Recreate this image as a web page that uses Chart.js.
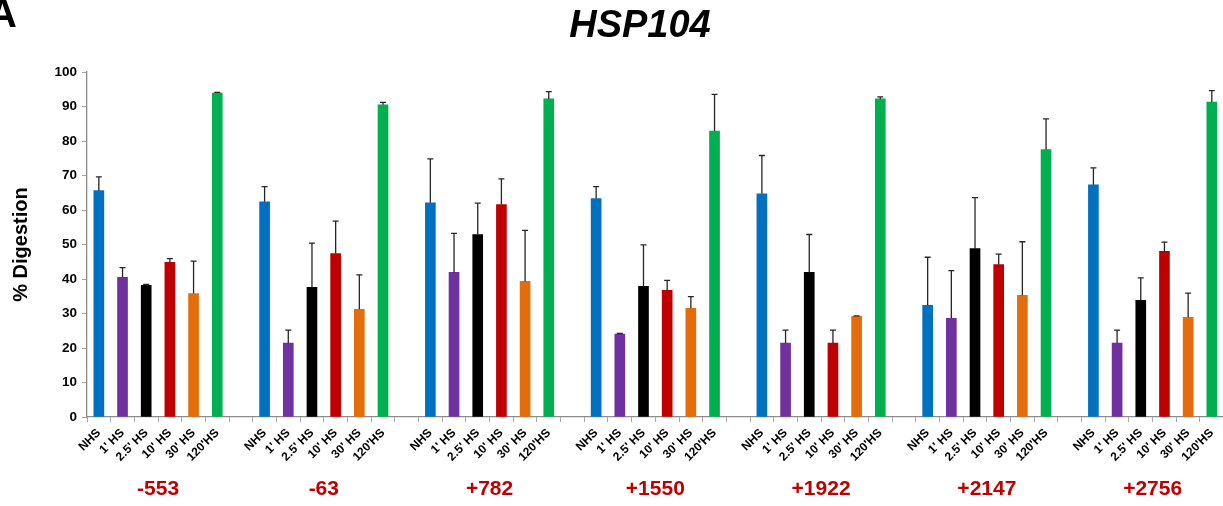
<!DOCTYPE html>
<html>
<head>
<meta charset="utf-8">
<script src="https://cdn.jsdelivr.net/npm/chart.js@4"></script>
<style>
  html,body{margin:0;padding:0;background:#fff;}
  #wrap{position:relative;width:1223px;height:506px;overflow:hidden;}
  #title{position:absolute;left:0;width:1280px;top:2px;text-align:center;font:italic bold 38px "Liberation Sans",Arial,sans-serif;color:#000;line-height:44px;}
  #panel{position:absolute;left:-12px;top:-9px;font:bold 40px "Liberation Sans",Arial,sans-serif;color:#000;line-height:44px;}
  canvas{position:absolute;left:0;top:0;}
</style>
</head>
<body>
<div id="wrap">
  <canvas id="c" width="1226" height="506"></canvas>
  <div id="title">HSP104</div>
  <div id="panel">A</div>
</div>
<script>
// Sites (group labels)
const positions = ['-553', '-63', '+782', '+1550', '+1922', '+2147', '+2756'];
// Time points (tick labels)
const timepoints = ['NHS', "1' HS", "2.5' HS", "10' HS", "30' HS", "120'HS"];
const seriesColors = ['#0070C0', '#7030A0', '#000000', '#C00000', '#E46C0A', '#00B050'];

// % Digestion per time point, one value per site
const nhs    = [65.6, 62.4, 62.1, 63.3, 64.7, 32.4, 67.3];
const hs1    = [40.5, 21.4, 41.9, 24.0, 21.4, 28.6, 21.4];
const hs2_5  = [38.2, 37.6, 52.9, 37.9, 41.9, 48.8, 33.8];
const hs10   = [44.8, 47.4, 61.6, 36.7, 21.4, 44.2, 48.0];
const hs30   = [35.8, 31.2, 39.3, 31.5, 29.2, 35.3, 28.9];
const hs120  = [93.9, 90.5, 92.2, 82.9, 92.2, 77.5, 91.3];

// Error (upper) per time point
const nhsErr   = [4.0, 4.4, 12.7, 3.5, 11.1, 13.9, 4.9];
const hs1Err   = [2.8, 3.8, 11.3, 0.2, 3.8, 13.8, 3.8];
const hs2_5Err = [0.2, 12.8, 9.1, 12.0, 11.0, 14.8, 6.5];
const hs10Err  = [1.1, 9.4, 7.4, 2.9, 3.8, 3.0, 2.7];
const hs30Err  = [9.4, 10.0, 14.8, 3.4, 0.1, 15.5, 7.0];
const hs120Err = [0.2, 0.7, 2.1, 10.6, 0.6, 8.9, 3.3];

const yTicks = [0,10,20,30,40,50,60,70,80,90,100];

const allSeries = [nhs, hs1, hs2_5, hs10, hs30, hs120];
const allErr = [nhsErr, hs1Err, hs2_5Err, hs10Err, hs30Err, hs120Err];

const labels = [], values = [], errs = [], colors = [];
positions.forEach((p, g) => {
  timepoints.forEach((t, k) => {
    labels.push(t);
    values.push(allSeries[k][g]);
    errs.push(allErr[k][g]);
    colors.push(seriesColors[k]);
  });
  if (g < positions.length - 1) {
    labels.push('');
    values.push(null);
    errs.push(null);
    colors.push('rgba(0,0,0,0)');
  }
});

const errorBars = {
  id: 'errorBars',
  afterDatasetsDraw(chart) {
    const ctx = chart.ctx, xs = chart.scales.x, ys = chart.scales.y;
    ctx.save();
    ctx.strokeStyle = '#262626';
    ctx.lineWidth = 1.3;
    values.forEach((v, i) => {
      if (v === null) return;
      const x = xs.getPixelForValue(i);
      const y0 = ys.getPixelForValue(v);
      const y1 = ys.getPixelForValue(v + errs[i]);
      ctx.beginPath();
      ctx.moveTo(x, y0);
      ctx.lineTo(x, y1);
      ctx.moveTo(x - 3, y1);
      ctx.lineTo(x + 3, y1);
      ctx.stroke();
    });
    ctx.restore();
  }
};

const groupLabels = {
  id: 'groupLabels',
  afterDraw(chart) {
    const ctx = chart.ctx, xs = chart.scales.x;
    ctx.save();
    ctx.fillStyle = '#C00000';
    ctx.font = 'bold 21px "Liberation Sans", Arial, sans-serif';
    ctx.textAlign = 'center';
    ctx.textBaseline = 'alphabetic';
    positions.forEach((p, g) => {
      const a = xs.getPixelForValue(g * 7 + 2), b = xs.getPixelForValue(g * 7 + 3);
      ctx.fillText(p, (a + b) / 2, chart.chartArea.bottom + 78);
    });
    ctx.restore();
  }
};

new Chart(document.getElementById('c'), {
  type: 'bar',
  data: {
    labels: labels,
    datasets: [{
      data: values,
      backgroundColor: colors,
      borderWidth: 0,
      barThickness: 10
    }]
  },
  options: {
    responsive: false,
    animation: false,
    events: [],
    layout: { padding: { top: 72, right: 0, bottom: 0, left: 9 } },
    plugins: { legend: { display: false }, tooltip: { enabled: false }, title: { display: false } },
    scales: {
      x: {
        offset: true,
        grid: { display: true, drawOnChartArea: false, offset: true, color: '#A6A6A6', tickLength: 5, lineWidth: 1 },
        border: { color: '#8C8C8C', width: 1.3 },
        ticks: {
          autoSkip: false, maxRotation: 45, minRotation: 45, padding: 4,
          color: '#000',
          font: { family: '"Liberation Sans", Arial, sans-serif', size: 12, weight: 'bold' }
        },
        afterFit(s) { s.height = 89; }
      },
      y: {
        min: 0, max: 100,
        afterBuildTicks(s) { s.ticks = yTicks.map(v => ({ value: v })); },
        grid: { display: true, drawOnChartArea: false, color: '#A6A6A6', tickLength: 5 },
        border: { color: '#8C8C8C', width: 1.3 },
        ticks: {
          color: '#000', padding: 5,
          font: { family: '"Liberation Sans", Arial, sans-serif', size: 13.5, weight: 'bold' }
        },
        title: {
          display: true, text: '% Digestion', color: '#000', padding: { top: 0, bottom: 8 },
          font: { family: '"Liberation Sans", Arial, sans-serif', size: 20, weight: 'bold' }
        },
        afterFit(s) { s.width = 78; }
      }
    }
  },
  plugins: [errorBars, groupLabels]
});
</script>
</body>
</html>
